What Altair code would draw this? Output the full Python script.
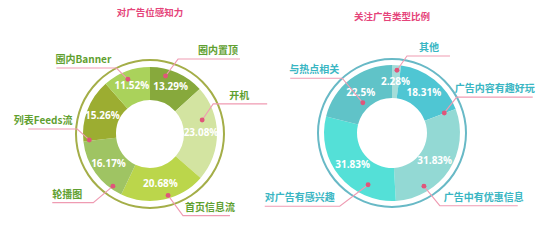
import altair as alt
import pandas as pd
import numpy as np

# ---------------- data ----------------
left_title = "对广告位感知力"
left_names = ["圈内置顶", "开机", "首页信息流", "轮播图", "列表Feeds流", "圈内Banner"]
left_values = [13.29, 23.08, 20.68, 16.17, 15.26, 11.52]
left_colors = ["#87a93c", "#d3e4a1", "#bbd64b", "#9fc463", "#9cad31", "#aad25b"]

right_title = "关注广告类型比例"
right_names = ["其他", "广告内容有趣好玩", "广告中有优惠信息", "对广告有感兴趣", "与热点相关"]
right_values = [2.28, 18.31, 31.83, 31.83, 22.5]
right_colors = ["#a5ddd9", "#4fc6d3", "#93d9d4", "#54e0d7", "#60c3c8"]

# ---------------- layout / style (label placement, not data) ----------------
W, H = 551, 240
FONT = "Noto Sans CJK SC"
XS = alt.Scale(domain=[0, W], range=[0, W])
YS = alt.Scale(domain=[0, H], range=[0, H])
R_TXT, R_RING = 51, 74
LINE_COLOR = "#ef9bb2"
DOT_COLOR = "#e0557a"
TITLE_COLOR = "#e5447a"

# per label: (dot angle deg, dot radius, elbow angle deg, elbow radius, line dx, text dx)
left_label_layout = [
    (15, 60, 20.5, 80, 62, 40),
    (75, 54, 64.5, 70, 54, 26),
    (163.6, 64, 158, 88, 47, 27),
    (215.4, 64, 219.6, 89, -41, -26),
    (264.4, 61, 273.9, 73, -49, -34),
    (338, 59, 333, 74, -60, -33),
]
right_label_layout = [
    (4.5, 63, 11, 78.5, 43, 22),
    (69, 56, 61, 74, 76, 38),
    (149, 62, 146.7, 87, 78, 44),
    (204.8, 57, 215.5, 90, -75, -40),
    (316, 42, 317.7, 74, -52, -28),
]


def donut(names, values, colors, layout, cx, cy, r_out, r_in, title, title_y,
          ring_color, label_color):
    df = pd.DataFrame({"name": names, "value": values, "color": colors,
                       "idx": list(range(len(names)))})
    df["pct"] = [f"{v:g}%" for v in values]

    base = alt.Chart(df).encode(
        theta=alt.Theta("value:Q", stack=True),
        order=alt.Order("idx:Q"),
        detail="name:N",
        x=alt.value(cx), y=alt.value(cy),
    )
    arcs = base.mark_arc(innerRadius=r_in, outerRadius=r_out).encode(
        color=alt.Color("color:N", scale=None))
    pct = base.mark_text(radius=R_TXT, font="Open Sans", fontSize=10,
                         fontWeight="bold", color="white").encode(text="pct:N")
    pie = alt.layer(arcs, pct)

    ring = alt.Chart(alt.Data(values=[{"k": 1}])).mark_arc(
        theta=0, theta2=2 * np.pi, innerRadius=R_RING - 1.0, outerRadius=R_RING + 1.0,
        color=ring_color).encode(x=alt.value(cx), y=alt.value(cy))

    pts, dots, labs = [], [], []
    for n, (da, dr, ea, er, ldx, tdx) in zip(names, layout):
        da, ea = np.radians(da), np.radians(ea)
        dx, dy = cx + dr * np.sin(da), cy - dr * np.cos(da)
        ex, ey = cx + er * np.sin(ea), cy - er * np.cos(ea)
        pts += [{"name": n, "k": 0, "x": dx, "y": dy},
                {"name": n, "k": 1, "x": ex, "y": ey},
                {"name": n, "k": 2, "x": ex + ldx, "y": ey}]
        dots.append({"name": n, "x": dx, "y": dy})
        labs.append({"name": n, "x": ex + tdx, "y": ey - 3})
    enc = dict(x=alt.X("x:Q", scale=XS, axis=None), y=alt.Y("y:Q", scale=YS, axis=None))
    lines = alt.Chart(pd.DataFrame(pts)).mark_line(
        color=LINE_COLOR, strokeWidth=1.1).encode(detail="name:N", order="k:Q", **enc)
    dotm = alt.Chart(pd.DataFrame(dots)).mark_circle(
        color=DOT_COLOR, size=24, opacity=1).encode(**enc)
    labm = alt.Chart(pd.DataFrame(labs)).mark_text(
        font=FONT, fontSize=10, fontWeight="bold", color=label_color,
        baseline="bottom", align="center").encode(text="name:N", **enc)
    tit = alt.Chart(pd.DataFrame([{"t": title, "x": cx, "y": title_y}])).mark_text(
        font=FONT, fontSize=9.5, fontWeight="bold", color=TITLE_COLOR,
        baseline="middle", align="center").encode(text="t:N", **enc)
    return pie, [ring, lines, dotm, labm, tit]


lpie, lextra = donut(left_names, left_values, left_colors, left_label_layout,
                     150, 134, 67, 34, left_title, 13, "#a4ae48", "#5fa030")
rpie, rextra = donut(right_names, right_values, right_colors, right_label_layout,
                     392, 133, 68, 35, right_title, 17, "#68b9c6", "#3ab6c3")

chart = alt.layer(lpie, rpie, *lextra, *rextra).resolve_scale(
    theta="independent"
).properties(
    width=W, height=H, padding=0, autosize=alt.AutoSizeParams(type="none"),
    background="white"
).configure_view(stroke=None)

chart.save("out.html", embed_options={"renderer": "svg", "actions": False})
